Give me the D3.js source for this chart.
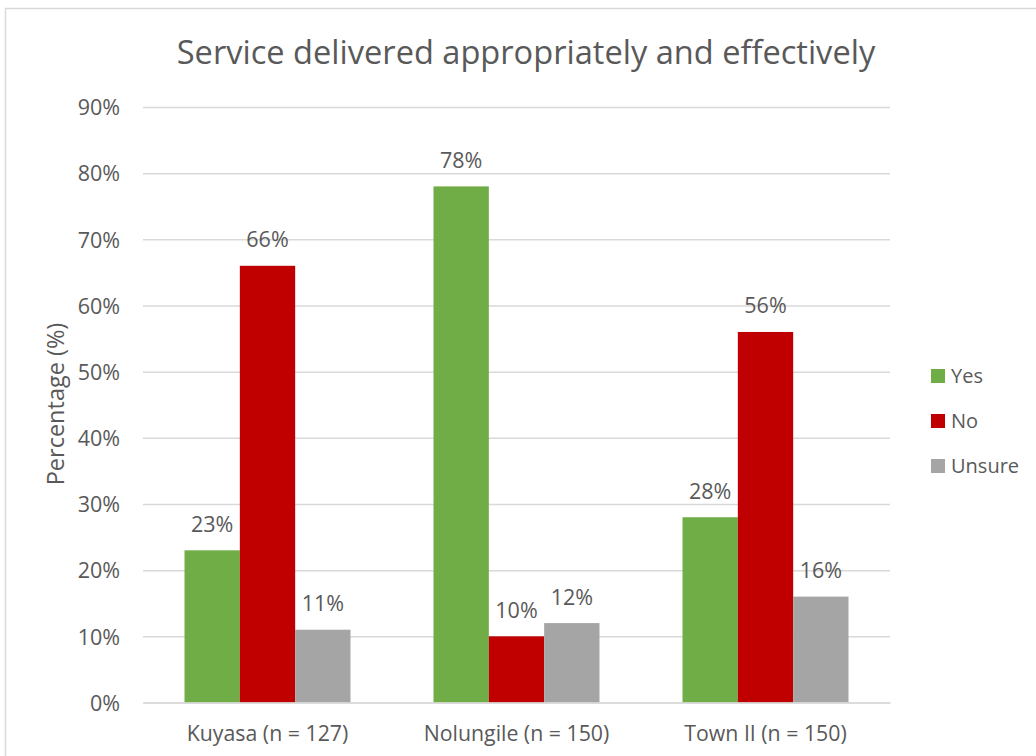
<!DOCTYPE html>
<html>
<head>
<meta charset="utf-8">
<script src="https://cdn.jsdelivr.net/npm/d3@7"></script>
<style>
  html, body { margin: 0; padding: 0; background: #fff; }
  svg { display: block; }
  text { font-family: "Open Sans", "Noto Sans", sans-serif; fill: #595959; }
</style>
</head>
<body>
<svg id="chart" width="1036" height="756"></svg>
<script>
// Survey responses by area
const categories = ["Kuyasa (n = 127)", "Nolungile (n = 150)", "Town II (n = 150)"];
const seriesNames = ["Yes", "No", "Unsure"];
const yesValues = [23, 78, 28];
const noValues = [66, 10, 56];
const unsureValues = [11, 12, 16];
const yTicks = [0, 10, 20, 30, 40, 50, 60, 70, 80, 90];
const colors = ["#70AD47", "#C00000", "#A5A5A5"];

const seriesValues = [yesValues, noValues, unsureValues];
const rows = categories.map((c, i) => ({
  category: c,
  values: seriesNames.map((s, j) => ({ series: s, value: seriesValues[j][i] }))
}));

const svg = d3.select("#chart");

// outer chart frame
svg.append("rect")
  .attr("x", 5.5).attr("y", 8.5)
  .attr("width", 1100).attr("height", 800)
  .attr("fill", "none").attr("stroke", "#D9D9D9").attr("stroke-width", 1.5);

const plot = { left: 143, right: 890, top: 107, bottom: 702.5 };

const y = d3.scaleLinear().domain([0, 90]).range([plot.bottom, plot.top]);
const x0 = d3.scaleBand().domain(categories).range([plot.left, plot.right])
  .paddingInner(1 / 3).paddingOuter(1 / 6);
const x1 = d3.scaleBand().domain(seriesNames).range([0, x0.bandwidth()]);
const color = d3.scaleOrdinal().domain(seriesNames).range(colors);

// gridlines
const yAxis = d3.axisLeft(y).tickValues(yTicks)
  .tickSize(-(plot.right - plot.left)).tickFormat(d => d + "%").tickPadding(23);
const gy = svg.append("g").attr("transform", `translate(${plot.left},0)`).call(yAxis);
gy.select(".domain").remove();
gy.selectAll(".tick line").attr("stroke", "#D9D9D9").attr("stroke-width", 1.5);
gy.selectAll(".tick text").attr("font-size", 21.5).attr("dy", "0.36em")
  .style("font-family", "\"Open Sans\", sans-serif").attr("fill", "#595959");

// bars
const groups = svg.append("g").selectAll("g").data(rows).join("g")
  .attr("transform", d => `translate(${x0(d.category)},0)`);
groups.selectAll("rect").data(d => d.values).join("rect")
  .attr("x", d => x1(d.series))
  .attr("y", d => y(d.value))
  .attr("width", x1.bandwidth())
  .attr("height", d => y(0) - y(d.value))
  .attr("fill", d => color(d.series));

// value labels
groups.selectAll("text.val").data(d => d.values).join("text")
  .attr("class", "val")
  .attr("x", d => x1(d.series) + x1.bandwidth() / 2)
  .attr("y", d => y(d.value) - 18.5)
  .attr("text-anchor", "middle").attr("font-size", 21.5)
  .text(d => d.value + "%");

// category axis
const xAxis = d3.axisBottom(x0).tickSize(0).tickPadding(0);
const gx = svg.append("g").attr("transform", `translate(0,${plot.bottom})`).call(xAxis);
gx.select(".domain").attr("stroke", "#D9D9D9").attr("stroke-width", 1.5);
gx.selectAll(".tick text").attr("font-size", 21.3).attr("dy", 0).attr("y", 38)
  .style("font-family", "\"Open Sans\", sans-serif").attr("fill", "#595959");

// title
svg.append("text")
  .attr("x", 526).attr("y", 64)
  .attr("text-anchor", "middle").attr("font-size", 32.6)
  .text("Service delivered appropriately and effectively");

// y axis title
svg.append("text")
  .attr("transform", "translate(64,404) rotate(-90)")
  .attr("text-anchor", "middle").attr("font-size", 23.5)
  .text("Percentage (%)");

// legend
const legend = svg.append("g").selectAll("g").data(seriesNames).join("g")
  .attr("transform", (d, i) => `translate(931,${369 + i * 45})`);
legend.append("rect").attr("width", 14).attr("height", 14).attr("fill", d => color(d));
legend.append("text").attr("x", 20).attr("y", 14).attr("font-size", 20).text(d => d);
</script>
</body>
</html>
